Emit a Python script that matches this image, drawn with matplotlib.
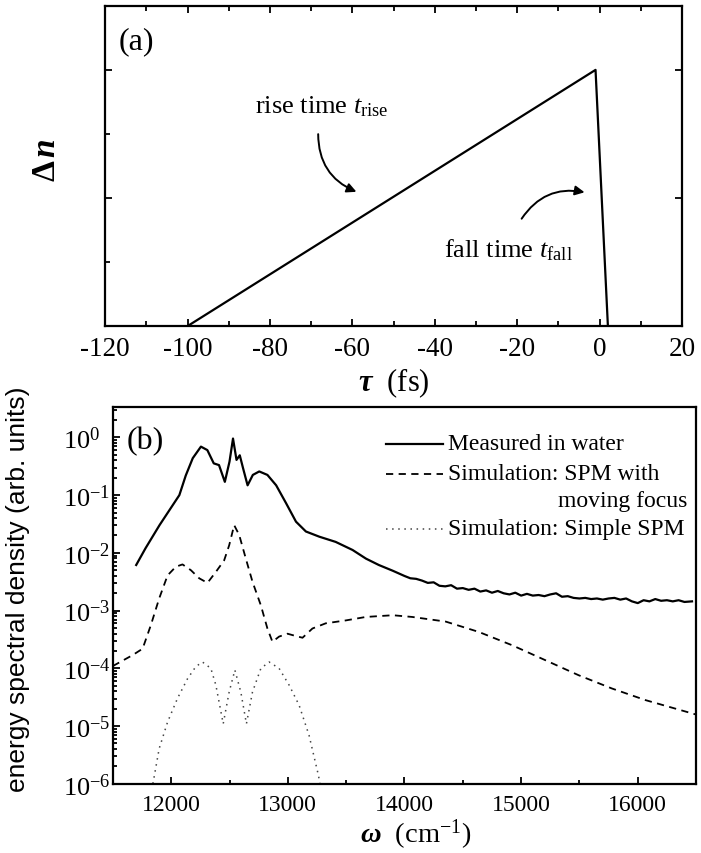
import numpy as np
import matplotlib

matplotlib.use("Agg")
import matplotlib.pyplot as plt
from matplotlib.lines import Line2D
from matplotlib.ticker import FixedLocator, MultipleLocator, LogLocator, LogFormatterMathtext, NullFormatter

plt.rcParams["font.family"] = ["Liberation Serif", "DejaVu Serif"]
plt.rcParams["mathtext.fontset"] = "custom"
plt.rcParams["mathtext.rm"] = "Liberation Serif"
plt.rcParams["mathtext.it"] = "Liberation Serif:italic"
plt.rcParams["mathtext.bf"] = "Liberation Serif:bold"
plt.rcParams["mathtext.bfit"] = "Liberation Serif:bold:italic"
plt.rcParams["axes.unicode_minus"] = False

# (a) refractive index change vs delay
tau_fs = [-100, -1, 2]
delta_n = [0.0, 1.0, 0.0]

# (b) spectra, log10 of energy spectral density
meas_w = [11700, 11780, 11900, 11985, 12070, 12125, 12185, 12255, 12310, 12365,
          12410, 12460, 12500, 12530, 12560, 12588, 12617, 12655, 12700, 12755,
          12825, 12900, 12985, 13070, 13155, 13270, 13410, 13555, 13670, 13780,
          13900, 14000, 14050, 14100, 14150, 14200, 14250, 14300, 14350, 14400,
          14450, 14500, 14550, 14600, 14650, 14700, 14750, 14800, 14850, 14900,
          14950, 15000, 15050, 15100, 15150, 15200, 15250, 15300, 15350, 15400,
          15450, 15500, 15550, 15600, 15650, 15700, 15750, 15800, 15850, 15900,
          15950, 16000, 16050, 16100, 16150, 16200, 16250, 16300, 16350, 16400,
          16465]
meas_log = [-2.21, -1.92, -1.52, -1.26, -1.00, -0.66, -0.36, -0.16, -0.22, -0.45,
            -0.48, -0.77, -0.42, -0.02, -0.39, -0.31, -0.54, -0.83, -0.65, -0.59,
            -0.65, -0.83, -1.14, -1.46, -1.63, -1.72, -1.81, -1.95, -2.10, -2.21,
            -2.31, -2.40, -2.44, -2.45, -2.48, -2.52, -2.51, -2.57, -2.58, -2.56,
            -2.62, -2.61, -2.64, -2.62, -2.67, -2.65, -2.69, -2.66, -2.70, -2.72,
            -2.69, -2.74, -2.71, -2.74, -2.73, -2.75, -2.72, -2.70, -2.76, -2.75,
            -2.78, -2.79, -2.78, -2.80, -2.79, -2.81, -2.79, -2.78, -2.81, -2.79,
            -2.84, -2.87, -2.82, -2.84, -2.80, -2.83, -2.82, -2.84, -2.82, -2.85,
            -2.84]

spm_focus_w = [11500, 11670, 11755, 11826, 11897, 11969, 12040, 12097, 12169, 12240,
               12311, 12383, 12454, 12497, 12540, 12583, 12640, 12697, 12769, 12825,
               12868, 12925, 12997, 13068, 13126, 13211, 13325, 13497, 13668, 13900,
               14067, 14353, 14638, 14923, 15209, 15494, 15780, 16066, 16500]
spm_focus_log = [-3.96, -3.77, -3.66, -3.25, -2.79, -2.39, -2.24, -2.20, -2.30, -2.44,
                 -2.52, -2.33, -2.13, -1.87, -1.52, -1.69, -2.10, -2.50, -2.91, -3.31,
                 -3.54, -3.45, -3.40, -3.44, -3.47, -3.31, -3.22, -3.17, -3.11, -3.08,
                 -3.11, -3.19, -3.37, -3.60, -3.86, -4.12, -4.35, -4.55, -4.80]

spm_simple_w = [11830, 11846, 11897, 11969, 12054, 12140, 12211, 12268, 12340, 12383,
                12446, 12497, 12546, 12597, 12645, 12697, 12769, 12840, 12925, 13011,
                13097, 13182, 13262, 13285]
spm_simple_log = [-6.10, -5.97, -5.39, -4.93, -4.52, -4.18, -3.97, -3.89, -4.00, -4.29,
                  -4.96, -4.41, -4.03, -4.41, -4.96, -4.41, -4.00, -3.89, -4.00, -4.29,
                  -4.64, -5.16, -5.85, -6.10]

legend_labels = ["Measured in water", "Simulation: SPM with", "Simulation: Simple SPM"]

fig = plt.figure(figsize=(7.01, 8.54), dpi=100)
ax_a = fig.add_axes([0.150, 0.617, 0.823, 0.375])
ax_b = fig.add_axes([0.161, 0.081, 0.832, 0.4415])

# ---- panel (a)
ax_a.plot(tau_fs, delta_n, color="k", lw=1.6)
ax_a.set_xlim(-120, 20)
ax_a.set_ylim(0, 1.25)
ax_a.xaxis.set_major_locator(MultipleLocator(20))
ax_a.xaxis.set_minor_locator(MultipleLocator(10))
ax_a.yaxis.set_major_locator(FixedLocator([0.5, 1.0]))
ax_a.yaxis.set_minor_locator(FixedLocator([0.25, 0.75]))
ax_a.tick_params(which="both", direction="in", top=True, right=True, labelleft=False,
                 labelsize=19.5, pad=7, width=1.3)
ax_a.tick_params(which="major", length=5)
ax_a.tick_params(which="minor", length=3.5)
ax_a.tick_params(axis="y", which="minor", right=False)
for s in ax_a.spines.values():
    s.set_linewidth(1.6)
ax_a.set_xlabel(r"$\mathbfit{\tau}$  (fs)", fontsize=22)
ax_a.xaxis.set_label_coords(0.5, -0.122)
ax_a.set_ylabel(r"$\mathbf{\Delta}\,\mathbfit{n}$", fontsize=24)
ax_a.yaxis.set_label_coords(-0.075, 0.52)
ax_a.text(0.023, 0.89, "(a)", transform=ax_a.transAxes, fontsize=23, va="center", ha="left")

ax_a.text(-83.6, 0.86, r"rise time $t_{\mathrm{rise}}$", fontsize=19, va="center", ha="left")
ax_a.annotate("", xy=(-58.4, 0.52), xytext=(-68.3, 0.76),
              arrowprops=dict(arrowstyle="-|>", connectionstyle="arc3,rad=0.35",
                              color="k", lw=1.4, mutation_scale=14))
ax_a.text(-37.7, 0.30, r"fall time $t_{\mathrm{fall}}$", fontsize=19, va="center", ha="left")
ax_a.annotate("", xy=(-3.0, 0.52), xytext=(-19.3, 0.41),
              arrowprops=dict(arrowstyle="-|>", connectionstyle="arc3,rad=-0.35",
                              color="k", lw=1.4, mutation_scale=14))

# ---- panel (b)
ax_b.plot(meas_w, 10 ** np.array(meas_log), color="k", lw=1.6)
ax_b.plot(spm_focus_w, 10 ** np.array(spm_focus_log), color="k", lw=1.3, ls=(0, (4, 3)))
ax_b.plot(spm_simple_w, 10 ** np.array(spm_simple_log), color="#444444", lw=1.1, ls=(0, (1, 3)))
ax_b.set_yscale("log")
ax_b.set_xlim(11500, 16500)
ax_b.set_ylim(1e-6, 10 ** 0.53)
ax_b.xaxis.set_major_locator(MultipleLocator(1000))
ax_b.xaxis.set_minor_locator(MultipleLocator(500))
ax_b.yaxis.set_major_locator(FixedLocator([10.0 ** k for k in range(-6, 1)]))
ax_b.yaxis.set_major_formatter(LogFormatterMathtext())
ax_b.yaxis.set_minor_locator(LogLocator(base=10, subs=np.arange(2, 10), numticks=20))
ax_b.yaxis.set_minor_formatter(NullFormatter())
ax_b.tick_params(which="both", direction="in", top=False, right=False, width=1.3)
ax_b.tick_params(which="major", length=5)
ax_b.tick_params(which="minor", length=3)
ax_b.tick_params(axis="x", labelsize=17, pad=7)
ax_b.tick_params(axis="y", labelsize=19, pad=36)
plt.setp(ax_b.get_yticklabels(), ha="left")
for s in ax_b.spines.values():
    s.set_linewidth(1.6)
ax_b.set_xlabel(r"$\mathbfit{\omega}$  (cm$^{-1}$)", fontsize=20.5)
ax_b.xaxis.set_label_coords(0.52, -0.088)
ax_b.set_ylabel("energy spectral density (arb. units)", fontsize=19,
                family=["Liberation Sans", "DejaVu Sans"])
ax_b.yaxis.set_label_coords(-0.142, 0.52)
ax_b.text(0.024, 0.91, "(b)", transform=ax_b.transAxes, fontsize=23, va="center", ha="left")

# legend drawn by hand to get the two-line label layout
leg_y = [0.902, 0.822, 0.676]
leg_styles = [dict(color="k", lw=1.6, ls="-"),
              dict(color="k", lw=1.3, ls=(0, (4, 3))),
              dict(color="#444444", lw=1.1, ls=(0, (1, 3)))]
for y, st, lab in zip(leg_y, leg_styles, legend_labels):
    ax_b.add_line(Line2D([0.468, 0.566], [y, y], transform=ax_b.transAxes, **st))
    ax_b.text(0.575, y, lab, transform=ax_b.transAxes, fontsize=17, va="center", ha="left")
ax_b.text(0.985, 0.751, "moving focus", transform=ax_b.transAxes, fontsize=17,
          va="center", ha="right")

fig.savefig("out.png", dpi=100)
plt.close(fig)
